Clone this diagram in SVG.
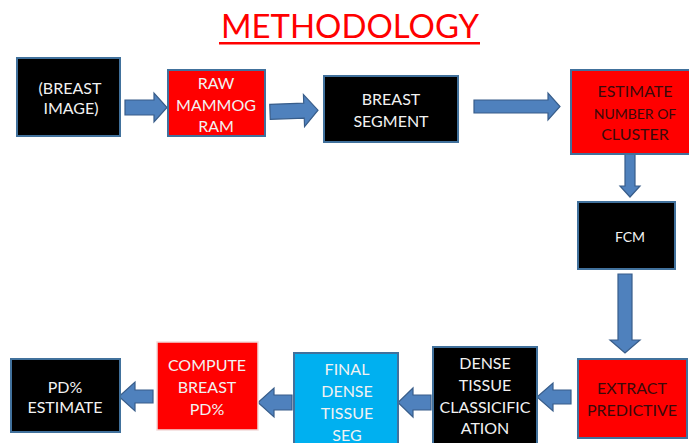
<svg xmlns="http://www.w3.org/2000/svg" width="689" height="443" viewBox="0 0 689 443">
<style>
.box{stroke:#41719C;stroke-width:2}
.blk{fill:#000}
.red{fill:#FF0000}
.cyan{fill:#00B0F0}
.arr{fill:#4F81BD;stroke:#385D8A;stroke-width:1.2}
text{font-family:Lato,"Open Sans","Liberation Sans",sans-serif;font-size:16px;text-anchor:middle}
.w{fill:#F2F2F2}
.d{fill:#3A0A0A}
</style>
<rect width="689" height="443" fill="#fff"/>
<g id="title">
<text x="350" y="38" style="font-size:33px;fill:#FF0000" textLength="258" lengthAdjust="spacingAndGlyphs">METHODOLOGY</text>
<rect x="219" y="42" width="261" height="2.5" fill="#FF0000"/>
</g>
<g id="connectors">
<polygon class="arr" points="125,100 154,100 154,93 167,107.5 154,122 154,115 125,115"/>
<polygon class="arr" transform="rotate(-2 294 111)" points="270,103.5 304,103.5 304,95 318,111 304,127 304,118.5 270,118.5"/>
<polygon class="arr" points="474,100 548,100 548,93 560,106.5 548,120 548,113 474,113"/>
<polygon class="arr" points="625,154 635,154 635,186 640,186 630,197 620,186 625,186"/>
<polygon class="arr" points="618,274 632,274 632,340 640,340 625,353 610,340 618,340"/>
<polygon class="arr" points="571,390 553,390 553,383 537,397 553,411 553,404 571,404"/>
<polygon class="arr" points="431,395 413,395 413,388 398,402.5 413,417 413,410 431,410"/>
<polygon class="arr" points="292,395 274,395 274,388 258,402.5 274,417 274,410 292,410"/>
<polygon class="arr" points="153,390 135,390 135,382 119,396.5 135,411 135,403 153,403"/>
</g>
<g id="breast-image">
<rect class="box blk" x="17" y="58" width="103" height="78"/>
<text class="w" x="70" y="94">(BREAST</text>
<text class="w" x="71" y="114">IMAGE)</text>
</g>
<g id="raw-mammogram">
<rect class="box red" x="168" y="70" width="97" height="66"/>
<text class="w" x="216" y="89">RAW</text>
<text class="w" x="216" y="111">MAMMOG</text>
<text class="w" x="216" y="132">RAM</text>
</g>
<g id="breast-segment">
<rect class="box blk" x="324" y="76" width="134" height="66"/>
<text class="w" x="391" y="105">BREAST</text>
<text class="w" x="391" y="127">SEGMENT</text>
</g>
<g id="estimate-cluster">
<rect class="box red" x="571" y="70" width="120" height="84"/>
<text class="d" x="635" y="97">ESTIMATE</text>
<text class="d" x="635" y="119" style="font-size:14px">NUMBER OF</text>
<text class="d" x="635" y="140">CLUSTER</text>
</g>
<g id="fcm">
<rect class="box blk" x="578" y="202" width="97" height="67"/>
<text class="w" x="630" y="242" style="font-size:14px">FCM</text>
</g>
<g id="extract-predictive">
<rect class="box red" x="578" y="359" width="109" height="79"/>
<text class="d" x="632" y="394">EXTRACT</text>
<text class="d" x="632" y="416">PREDICTIVE</text>
</g>
<g id="dense-tissue-classification">
<rect class="box blk" x="433" y="347" width="104" height="98"/>
<text class="w" x="485" y="369">DENSE</text>
<text class="w" x="485" y="391">TISSUE</text>
<text class="w" x="485" y="413">CLASSICIFIC</text>
<text class="w" x="485" y="434">ATION</text>
</g>
<g id="final-dense-tissue-seg">
<rect class="box cyan" x="294" y="353" width="104" height="92"/>
<text class="w" x="347" y="375">FINAL</text>
<text class="w" x="347" y="397">DENSE</text>
<text class="w" x="347" y="419">TISSUE</text>
<text class="w" x="347" y="441">SEG</text>
</g>
<g id="compute-breast-pd">
<rect x="157" y="342" width="101" height="88" fill="#FF0000" stroke="#F2DCDB" stroke-width="1.5"/>
<text class="w" x="207" y="371">COMPUTE</text>
<text class="w" x="207" y="393">BREAST</text>
<text class="w" x="207" y="415">PD%</text>
</g>
<g id="pd-estimate">
<rect class="box blk" x="11" y="359" width="109" height="73"/>
<text class="w" x="65" y="393">PD%</text>
<text class="w" x="65" y="413">ESTIMATE</text>
</g>
</svg>
